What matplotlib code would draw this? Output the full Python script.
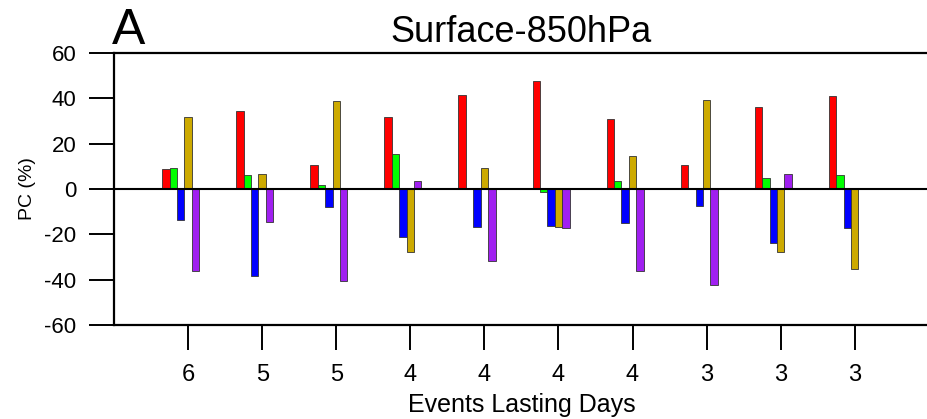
import numpy as np
import matplotlib
matplotlib.use("Agg")
import matplotlib.pyplot as plt

plt.rcParams['font.family'] = ['Liberation Sans', 'DejaVu Sans']
plt.rcParams['axes.unicode_minus'] = False

# event durations (x tick labels)
days = ['6', '5', '5', '4', '4', '4', '4', '3', '3', '3']

# PC (%) per event, one list per series
red = [9, 34.5, 10.6, 31.6, 41.5, 47.8, 30.7, 10.6, 36.3, 40.9]
green = [9.4, 6.2, 1.8, 15.6, 0, -1.2, 3.4, 0, 4.9, 6.0]
blue = [-13.7, -38.2, -7.8, -21.3, -16.6, -16.2, -14.9, -7.3, -23.8, -17.3]
gold = [31.8, 6.8, 38.8, -27.8, 9.4, -16.8, 14.6, 39.1, -27.9, -35.4]
purple = [-36.2, -14.4, -40.6, 3.5, -31.8, -17.3, -36.2, -42.5, 6.8, 0]

series = [red, green, blue, gold, purple]
colors = ['#ff0000', '#00ff00', '#0000ff', '#cdaa00', '#a020f0']
offsets = [-0.3, -0.2, -0.1, 0.0, 0.1]

fig = plt.figure(figsize=(9.27, 4.19), dpi=100)
ax = fig.add_axes([0.123, 0.2243, 0.879, 0.6492])

x = np.arange(1, len(days) + 1)
for vals, c, off in zip(series, colors, offsets):
    ax.bar(x + off, vals, width=0.1, color=c, edgecolor='#333333',
           linewidth=0.6, zorder=2)

ax.axhline(0, color='black', linewidth=1.5, zorder=3)

ax.set_xlim(0, 11)
ax.set_ylim(-60, 60)
ax.set_xticks(x)
ax.set_xticklabels(days)
ax.set_yticks(np.arange(-60, 61, 20))

for s in ['left', 'bottom', 'top']:
    ax.spines[s].set_linewidth(1.6)
ax.spines['right'].set_visible(False)

ax.tick_params(axis='both', direction='out', length=18, width=1.4,
               labelsize=16)
ax.tick_params(axis='y', pad=9)
ax.tick_params(axis='x', pad=10, labelsize=17)

ax.set_ylabel('PC (%)', fontsize=14, labelpad=6)
ax.set_xlabel('Events Lasting Days', fontsize=18, labelpad=5)
ax.set_title('Surface-850hPa', fontsize=26, pad=8)
fig.text(0.121, 1 - 44 / 419, 'A', fontsize=36, ha='left', va='baseline')

fig.savefig('out.png', dpi=100)
